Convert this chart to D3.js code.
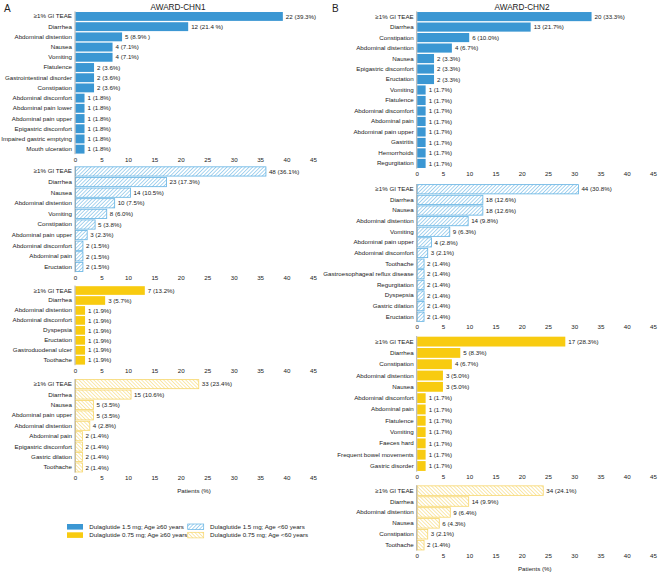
<!DOCTYPE html>
<html><head><meta charset="utf-8">
<script src="https://cdn.jsdelivr.net/npm/d3@7"></script>
<style>
body{margin:0;background:#fff;}
svg{display:block;font-family:"Liberation Sans",Arial,sans-serif;}
</style></head>
<body><svg id="c" width="660" height="572"></svg>
<script>
// ---------- DATA ----------
const ticks = [0,5,10,15,20,25,30,35,40,45];

const a1Cats = ["≥1% GI TEAE","Diarrhea","Abdominal distention","Nausea","Vomiting","Flatulence","Gastrointestinal disorder","Constipation","Abdominal discomfort","Abdominal pain lower","Abdominal pain upper","Epigastric discomfort","Impaired gastric emptying","Mouth ulceration"];
const a1N   = [22,12,5,4,4,2,2,2,1,1,1,1,1,1];
const a1Pct = [39.3,21.4,8.9,7.1,7.1,3.6,3.6,3.6,1.8,1.8,1.8,1.8,1.8,1.8];

const a2Cats = ["≥1% GI TEAE","Diarrhea","Nausea","Abdominal distention","Vomiting","Constipation","Abdominal pain upper","Abdominal discomfort","Abdominal pain","Eructation"];
const a2N   = [48,23,14,10,8,5,3,2,2,2];
const a2Pct = [36.1,17.3,10.5,7.5,6.0,3.8,2.3,1.5,1.5,1.5];

const a3Cats = ["≥1% GI TEAE","Diarrhea","Abdominal distention","Abdominal discomfort","Dyspepsia","Eructation","Gastroduodenal ulcer","Toothache"];
const a3N   = [7,3,1,1,1,1,1,1];
const a3Pct = [13.2,5.7,1.9,1.9,1.9,1.9,1.9,1.9];

const a4Cats = ["≥1% GI TEAE","Diarrhea","Nausea","Abdominal pain upper","Abdominal distention","Abdominal pain","Epigastric discomfort","Gastric dilation","Toothache"];
const a4N   = [33,15,5,5,4,2,2,2,2];
const a4Pct = [23.4,10.6,3.5,3.5,2.8,1.4,1.4,1.4,1.4];

const b1Cats = ["≥1% GI TEAE","Diarrhea","Constipation","Abdominal distention","Nausea","Epigastric discomfort","Eructation","Vomiting","Flatulence","Abdominal discomfort","Abdominal pain","Abdominal pain upper","Gastritis","Hemorrhoids","Regurgitation"];
const b1N   = [20,13,6,4,2,2,2,1,1,1,1,1,1,1,1];
const b1Pct = [33.3,21.7,10.0,6.7,3.3,3.3,3.3,1.7,1.7,1.7,1.7,1.7,1.7,1.7,1.7];

const b2Cats = ["≥1% GI TEAE","Diarrhea","Nausea","Abdominal distention","Vomiting","Abdominal pain upper","Abdominal discomfort","Toothache","Gastroesophageal reflux disease","Regurgitation","Dyspepsia","Gastric dilation","Eructation"];
const b2N   = [44,18,18,14,9,4,3,2,2,2,2,2,2];
const b2Pct = [30.8,12.6,12.6,9.8,6.3,2.8,2.1,1.4,1.4,1.4,1.4,1.4,1.4];

const b3Cats = ["≥1% GI TEAE","Diarrhea","Constipation","Abdominal distention","Nausea","Abdominal discomfort","Abdominal pain","Flatulence","Vomiting","Faeces hard","Frequent bowel movements","Gastric disorder"];
const b3N   = [17,5,4,3,3,1,1,1,1,1,1,1];
const b3Pct = [28.3,8.3,6.7,5.0,5.0,1.7,1.7,1.7,1.7,1.7,1.7,1.7];

const b4Cats = ["≥1% GI TEAE","Diarrhea","Abdominal distention","Nausea","Constipation","Toothache"];
const b4N   = [34,14,9,6,3,2];
const b4Pct = [24.1,9.9,6.4,4.3,2.1,1.4];

// value labels printed differently in the source figure
const labelQuirks = {"a1-1":"12 (21.4 %)","a1-2":"5 (8.9% )"};

const legendLabels = ["Dulaglutide 1.5 mg; Age ≥60 years","Dulaglutide 0.75 mg; Age ≥60 years","Dulaglutide 1.5 mg; Age <60 years","Dulaglutide 0.75 mg; Age <60 years"];
const panelTitles = ["AWARD-CHN1","AWARD-CHN2"];

// ---------- DRAW ----------
const svg = d3.select("#c");
const BLUE="#3b97d3", YELLOW="#f8cb10", BLUE_H="#62b2e3", YELLOW_H="#f7d66a";
const defs = svg.append("defs");
function hatch(id, color, angle){
  const p = defs.append("pattern").attr("id",id).attr("patternUnits","userSpaceOnUse")
    .attr("width",2.6).attr("height",2.6).attr("patternTransform",`rotate(${angle})`);
  p.append("rect").attr("width",2.6).attr("height",2.6).attr("fill","#fff");
  p.append("line").attr("x1",0).attr("y1",0).attr("x2",0).attr("y2",2.6)
    .attr("stroke",color).attr("stroke-width",1.1);
}
hatch("hb", BLUE_H, 45);
hatch("hy", YELLOW_H, -45);

const styles = {
  solidBlue:{fill:BLUE, stroke:"none"},
  hatchBlue:{fill:"url(#hb)", stroke:BLUE_H},
  solidYellow:{fill:YELLOW, stroke:"none"},
  hatchYellow:{fill:"url(#hy)", stroke:YELLOW_H}
};

const FS = 6.2;
function drawSub(key, cats, ns, pcts, x0, x1, yTop, yBot, style, xlab){
  const x = d3.scaleLinear().domain([0,45]).range([x0,x1]);
  const y = d3.scaleBand().domain(cats).range([yTop,yBot]).paddingInner(0.13).paddingOuter(0.06);
  const g = svg.append("g");
  const st = styles[style];
  g.selectAll("rect.bar").data(cats).enter().append("rect")
    .attr("x", x(0)+0.5)
    .attr("y", d=>y(d))
    .attr("width", (d,i)=>Math.max(0, x(pcts[i])-x(0)-0.5))
    .attr("height", y.bandwidth())
    .attr("fill", st.fill)
    .attr("stroke", st.stroke)
    .attr("stroke-width", st.stroke==="none"?0:0.8);
  g.selectAll("text.v").data(cats).enter().append("text")
    .attr("x",(d,i)=>x(pcts[i])+3)
    .attr("y",d=>y(d)+y.bandwidth()/2)
    .attr("dy","0.35em").attr("font-size",FS).attr("fill","#222")
    .text((d,i)=>labelQuirks[`${key}-${i}`] || `${ns[i]} (${pcts[i].toFixed(1)}%)`);
  // category axis
  const ay = d3.axisLeft(y).tickSize(0).tickPadding(3);
  const gy = g.append("g").attr("transform",`translate(${x0},0)`).call(ay);
  gy.select(".domain").attr("stroke","#999").attr("stroke-width",0.8).attr("d",`M0,${yTop}V${yBot}`);
  gy.selectAll("text").attr("font-size",FS).attr("fill","#222").attr("font-family",null);
  // value axis (labels only)
  const ax = d3.axisBottom(x).tickValues(ticks).tickSize(0).tickPadding(0);
  const gx = g.append("g").attr("transform",`translate(0,${yBot+2})`).call(ax);
  gx.select(".domain").remove();
  gx.selectAll("text").attr("font-size",FS).attr("fill","#222").attr("font-family",null).attr("dy","0.71em").attr("y",1);
  if(xlab){
    g.append("text").attr("x",(x0+x1)/2).attr("y",yBot+16).attr("dy","0.71em")
      .attr("text-anchor","middle").attr("font-size",FS).attr("fill","#222").text("Patients (%)");
  }
}

const AX0=75, AX1=313, BX0=416.7, BX1=653;
drawSub("a1",a1Cats,a1N,a1Pct,AX0,AX1,11.4,154.2,"solidBlue",false);
drawSub("a2",a2Cats,a2N,a2Pct,AX0,AX1,166.2,272.2,"hatchBlue",false);
drawSub("a3",a3Cats,a3N,a3Pct,AX0,AX1,285.6,365.2,"solidYellow",false);
drawSub("a4",a4Cats,a4N,a4Pct,AX0,AX1,379,472.6,"hatchYellow",true);
drawSub("b1",b1Cats,b1N,b1Pct,BX0,BX1,11.4,168.6,"solidBlue",false);
drawSub("b2",b2Cats,b2N,b2Pct,BX0,BX1,184,322,"hatchBlue",false);
drawSub("b3",b3Cats,b3N,b3Pct,BX0,BX1,336,471.6,"solidYellow",false);
drawSub("b4",b4Cats,b4N,b4Pct,BX0,BX1,485.2,550.6,"hatchYellow",true);

// panel letters & titles
svg.append("text").attr("x",4).attr("y",12).attr("font-size",10).attr("fill","#222").text("A");
svg.append("text").attr("x",332).attr("y",12).attr("font-size",10).attr("fill","#222").text("B");
svg.append("text").attr("x",178).attr("y",10).attr("text-anchor","middle").attr("font-size",8.2).attr("fill","#222").text(panelTitles[0]);
svg.append("text").attr("x",522).attr("y",10).attr("text-anchor","middle").attr("font-size",8.2).attr("fill","#222").text(panelTitles[1]);

// legend
const legStyles=["solidBlue","solidYellow","hatchBlue","hatchYellow"];
const legPos=[[67,524],[67,532.3],[187.7,524],[187.7,532.3]];
legendLabels.forEach((t,i)=>{
  const st=styles[legStyles[i]];
  svg.append("rect").attr("x",legPos[i][0]).attr("y",legPos[i][1]).attr("width",16).attr("height",5.6)
    .attr("fill",st.fill).attr("stroke",st.stroke).attr("stroke-width",st.stroke==="none"?0:0.7);
  svg.append("text").attr("x",legPos[i][0]+22.3).attr("y",legPos[i][1]+2.8).attr("dy","0.35em")
    .attr("font-size",6.2).attr("fill","#222").text(t);
});
</script></body></html>
